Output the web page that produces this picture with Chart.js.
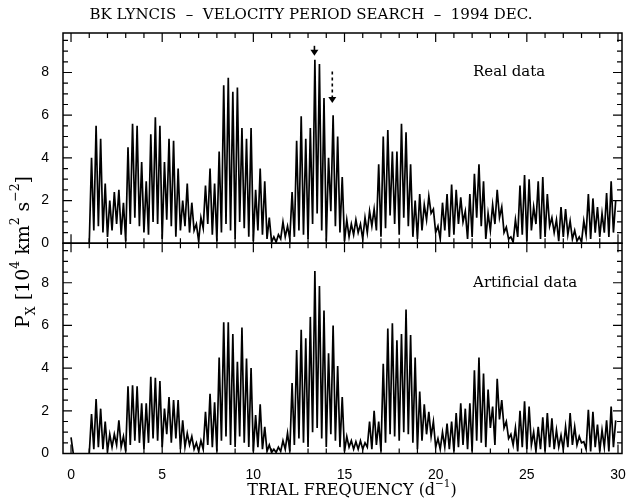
<!DOCTYPE html>
<html>
<head>
<meta charset="utf-8">
<script src="https://cdn.jsdelivr.net/npm/chart.js@4.4.1/dist/chart.umd.min.js"></script>
<style>
  html, body { margin: 0; padding: 0; background: #fff; }
  #wrap { width: 635px; height: 504px; }
</style>
</head>
<body>
<div id="wrap"><canvas id="chart" width="635" height="504"></canvas></div>
<script>
// Trial frequency grid (d^-1): first value and step, one power value per step
const freqStart = 0;
const freqStep = 0.125;

// Px in 1e4 km^2 s^-2, 8 values per unit of frequency (0, 0.125, ... 0.875)
const realPx = [
  null, null, null, null, null, null, null, null,
  0, 4.0, 0.6, 5.5, 0.8, 4.9, 0.5, 2.8,
  0.3, 2.0, 0.6, 2.4, 0.9, 2.5, 0.4, 1.9,
  0.1, 4.5, 0.9, 5.6, 1.2, 5.5, 0.8, 3.8,
  0.5, 2.9, 0.4, 5.1, 1.0, 5.9, 0.9, 5.5,
  0.2, 3.8, 1.1, 4.9, 0.8, 4.8, 0.3, 3.5,
  0.6, 2.0, 0.8, 2.8, 0.5, 1.9, 0.6, 0.9,
  0.1, 1.2, 0.7, 2.7, 0.9, 3.5, 0.4, 2.8,
  0.1, 4.3, 0.5, 7.4, 0.9, 7.75, 0.6, 7.1,
  0.2, 7.3, 1.0, 5.4, 0.7, 4.9, 0.3, 5.4,
  0.1, 2.5, 0.6, 3.5, 0.4, 2.9, 0.2, 1.2,
  0.05, 0.3, 0.05, 0.4, 0.2, 1.0, 0.3, 0.8,
  0.2, 2.4, 0.3, 4.8, 0.6, 5.95, 0.4, 4.9,
  0.2, 5.4, 0.9, 8.6, 1.4, 8.4, 0.6, 6.8,
  0.1, 4.0, 1.5, 6.0, 0.8, 5.0, 0.5, 3.1,
  0.1, 1.1, 0.3, 0.9, 0.4, 1.1, 0.5, 0.9,
  0.2, 1.2, 0.5, 1.5, 0.8, 1.6, 0.6, 3.7,
  0.3, 5.0, 0.7, 5.3, 1.3, 4.3, 0.9, 4.3,
  0.4, 5.6, 1.2, 5.2, 0.8, 3.7, 0.3, 2.0,
  0.2, 2.3, 0.6, 1.8, 1.1, 2.2, 1.4, 1.6,
  0.5, 0.8, 0.2, 1.9, 0.6, 2.3, 0.3, 2.75,
  0.4, 2.5, 0.9, 2.15, 1.0, 1.5, 0.2, 2.3,
  0.3, 3.25, 1.2, 3.7, 0.8, 2.9, 0.2, 1.4,
  0.6, 1.8, 0.9, 2.5, 1.2, 1.7, 0.5, 0.75,
  0.2, 0.3, 0.05, 1.1, 0.3, 2.7, 0.4, 3.2,
  0.1, 3.0, 0.6, 1.7, 0.9, 2.9, 0.2, 3.1,
  0.3, 2.3, 0.8, 1.2, 0.5, 1.1, 0.1, 1.7,
  0.3, 1.6, 0.4, 1.05, 0.2, 0.6, 0.1, 0.3,
  0.05, 1.05, 0.4, 2.3, 0.2, 2.1, 0.5, 1.7,
  0.3, 1.4, 0.5, 2.35, 0.3, 2.9, 0.5, 2.0
];

const artificialPx = [
  0.75, 0, null, null, null, null, null, null,
  0, 1.85, 0.2, 2.55, 0.3, 2.1, 0.2, 1.5,
  0.1, 0.9, 0.3, 0.9, 0.4, 1.55, 0.3, 0.8,
  0.1, 3.15, 0.4, 3.2, 0.6, 3.15, 0.5, 2.35,
  0.2, 2.35, 0.5, 3.6, 0.7, 3.55, 0.6, 3.4,
  0.3, 2.1, 0.9, 2.65, 0.5, 2.5, 0.7, 2.5,
  0.2, 1.55, 0.3, 0.95, 0.4, 0.8, 0.2, 0.5,
  0.1, 0.6, 0.2, 1.95, 0.4, 2.8, 0.3, 2.4,
  0.1, 4.5, 0.6, 6.15, 0.8, 6.15, 0.4, 5.6,
  0.3, 4.3, 0.8, 5.9, 0.5, 4.45, 0.3, 4.0,
  0.1, 1.8, 0.3, 2.3, 0.2, 1.25, 0.1, 0.4,
  0.05, 0.2, 0.05, 0.3, 0.1, 0.6, 0.2, 0.95,
  0.1, 3.3, 0.4, 4.85, 0.7, 5.8, 0.5, 5.4,
  0.3, 6.4, 1.0, 8.55, 1.2, 7.85, 0.7, 6.7,
  0.3, 4.7, 0.9, 6.0, 0.6, 4.1, 0.3, 2.65,
  0.1, 0.8, 0.3, 0.6, 0.2, 0.55, 0.2, 0.6,
  0.2, 0.5, 0.3, 1.5, 0.2, 2.0, 0.4, 1.5,
  0.1, 4.2, 0.5, 5.85, 0.9, 6.1, 0.8, 5.3,
  0.6, 5.6, 1.0, 6.75, 0.9, 5.55, 0.5, 4.5,
  0.2, 2.9, 0.6, 2.3, 0.9, 1.95, 0.8, 1.5,
  0.3, 0.7, 0.2, 1.0, 0.3, 1.4, 0.2, 1.5,
  0.1, 1.9, 0.3, 2.35, 0.4, 2.1, 0.2, 2.35,
  0.1, 3.9, 0.6, 4.5, 0.5, 3.75, 0.3, 3.0,
  1.2, 2.2, 0.4, 3.5, 1.6, 2.5, 1.2, 1.5,
  0.7, 0.9, 0.4, 1.2, 0.1, 2.0, 0.3, 2.45,
  0.2, 2.2, 0.4, 1.0, 0.1, 1.25, 0.2, 1.7,
  0.1, 1.9, 0.3, 1.65, 0.2, 1.1, 0.3, 0.85,
  0.2, 1.25, 0.3, 1.9, 0.4, 1.25, 0.4, 0.8,
  0.5, 0.55, 0.2, 2.05, 0.1, 1.95, 0.3, 1.35,
  0.1, 1.1, 0.3, 1.55, 0.1, 2.2, 0.3, 1.55
];

const xTickLabels = [0, 5, 10, 15, 20, 25, 30];
const yTickLabels = [0, 2, 4, 6, 8];
const panelLabels = ['Real data', 'Artificial data'];
const arrowFreqs = [13.35, 14.33];   // solid (best peak), dashed (alias)

const SERIF = '"DejaVu Serif", "Liberation Serif", serif';
const SANS = '"Liberation Sans", Arial, sans-serif';

function toPoints(values) {
    return values.map((v, i) => ({ x: freqStart + i * freqStep, y: v }));
}

// text with super/subscripts, centred on (cx, cy)
function drawRich(ctx, parts, cx, cy, size) {
    const widths = parts.map(([t, s]) => {
        ctx.font = (s ? size * 0.65 : size) + 'px ' + SERIF;
        return ctx.measureText(t).width;
    });
    let x = cx - widths.reduce((a, b) => a + b, 0) / 2;
    ctx.textAlign = 'left';
    ctx.textBaseline = 'middle';
    parts.forEach(([t, s], i) => {
        ctx.font = (s ? size * 0.65 : size) + 'px ' + SERIF;
        ctx.fillText(t, x, cy - s * size * 0.42);
        x += widths[i];
    });
}

function drawArrow(ctx, px, yTail, yTip, dashed) {
    ctx.save();
    ctx.strokeStyle = '#000';
    ctx.fillStyle = '#000';
    ctx.lineWidth = 1.6;
    if (dashed) ctx.setLineDash([3, 3]);
    ctx.beginPath();
    ctx.moveTo(px, yTail);
    ctx.lineTo(px, yTip - 5);
    ctx.stroke();
    ctx.setLineDash([]);
    ctx.beginPath();
    ctx.moveTo(px - 4, yTip - 6);
    ctx.lineTo(px + 4, yTip - 6);
    ctx.lineTo(px, yTip);
    ctx.closePath();
    ctx.fill();
    ctx.restore();
}

const framePlugin = {
    id: 'frame',
    afterDraw(chart) {
        const ctx = chart.ctx;
        const x = chart.scales.x;
        ctx.save();
        ctx.strokeStyle = '#000';
        ctx.fillStyle = '#000';

        ['yReal', 'yArt'].forEach(id => {
            const y = chart.scales[id];
            ctx.lineWidth = 1.5;
            ctx.strokeRect(x.left, y.top, x.right - x.left, y.bottom - y.top);

            // inward ticks on all four sides
            ctx.lineWidth = 1.2;
            ctx.beginPath();
            for (let f = 0; f <= 30; f++) {
                const px = x.getPixelForValue(f);
                const len = f % 5 === 0 ? 9 : 5;
                ctx.moveTo(px, y.top); ctx.lineTo(px, y.top + len);
                ctx.moveTo(px, y.bottom); ctx.lineTo(px, y.bottom - len);
            }
            for (let v = 0; v <= y.max; v += 0.5) {
                const py = y.getPixelForValue(v);
                const len = v % 2 === 0 ? 9 : 5;
                ctx.moveTo(x.left, py); ctx.lineTo(x.left + len, py);
                ctx.moveTo(x.right, py); ctx.lineTo(x.right - len, py);
            }
            ctx.stroke();
        });

        // panel labels
        ctx.font = '15px ' + SERIF;
        ctx.textAlign = 'left';
        ctx.textBaseline = 'middle';
        const ys = [chart.scales.yReal, chart.scales.yArt];
        panelLabels.forEach((t, i) => {
            ctx.fillText(t, x.getPixelForValue(22.05), ys[i].getPixelForValue(8.0));
        });

        // arrows over the best peak and its alias
        const yr = chart.scales.yReal;
        drawArrow(ctx, x.getPixelForValue(arrowFreqs[0]), yr.getPixelForValue(9.25), yr.getPixelForValue(8.78), false);
        drawArrow(ctx, x.getPixelForValue(arrowFreqs[1]), yr.getPixelForValue(8.05), yr.getPixelForValue(6.57), true);

        // axis titles
        drawRich(ctx, [['TRIAL FREQUENCY (d', 0], ['\u22121', 1], [')', 0]], 352, 491, 16);
        ctx.save();
        ctx.translate(24, 252);
        ctx.rotate(-Math.PI / 2);
        drawRich(ctx, [['P', 0], ['X', -1], [' [10', 0], ['4', 1], [' km', 0], ['2', 1], [' s', 0], ['\u22122', 1], [']', 0]], 0, 0, 19);
        ctx.restore();
        ctx.restore();
    }
};

const yScale = {
    type: 'linear',
    position: 'left',
    stack: 'panels',
    stackWeight: 1,
    min: 0,
    max: 9.85,
    grid: { display: false },
    border: { display: false },
    ticks: { color: '#000', padding: 6, font: { family: SANS, size: 14 } },
    afterBuildTicks: s => { s.ticks = yTickLabels.map(v => ({ value: v })); },
    afterFit: s => { s.width = 63; }
};

new Chart(document.getElementById('chart'), {
    type: 'line',
    data: {
        datasets: [
            {
                label: 'Artificial data',
                data: toPoints(artificialPx),
                yAxisID: 'yArt',
                borderColor: '#000',
                borderWidth: 1.7,
                pointRadius: 0,
                tension: 0
            },
            {
                label: 'Real data',
                data: toPoints(realPx),
                yAxisID: 'yReal',
                borderColor: '#000',
                borderWidth: 1.7,
                pointRadius: 0,
                tension: 0
            }
        ]
    },
    options: {
        responsive: false,
        devicePixelRatio: 1,
        animation: false,
        layout: { padding: { left: 0, right: 13, top: 0, bottom: 0 } },
        plugins: {
            legend: { display: false },
            tooltip: { enabled: false },
            title: {
                display: true,
                text: 'BK LYNCIS  \u2013  VELOCITY PERIOD SEARCH  \u2013  1994 DEC.',
                color: '#000',
                font: { family: SERIF, size: 15, weight: 'normal' },
                padding: { top: 6, bottom: 9 }
            }
        },
        scales: {
            x: {
                type: 'linear',
                min: -0.44,
                max: 30.22,
                grid: { display: false },
                border: { display: false },
                ticks: { color: '#000', padding: 5, font: { family: SANS, size: 14 } },
                afterBuildTicks: s => { s.ticks = xTickLabels.map(v => ({ value: v })); },
                afterFit: s => { s.height = 50.5; }
            },
            yArt: Object.assign({}, yScale),
            yReal: Object.assign({}, yScale)
        }
    },
    plugins: [framePlugin]
});
</script>
</body>
</html>
